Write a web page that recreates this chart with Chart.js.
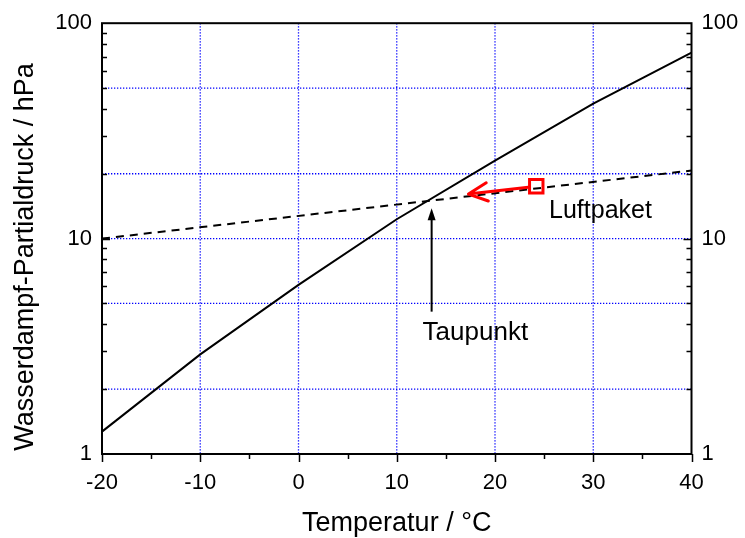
<!DOCTYPE html>
<html>
<head>
<meta charset="utf-8">
<script src="https://cdn.jsdelivr.net/npm/chart.js@4/dist/chart.umd.min.js"></script>
<style>
  html, body { margin: 0; padding: 0; background: #fff; }
  #wrap { width: 745px; height: 538px; }
</style>
</head>
<body>
<div id="wrap"><canvas id="chart" width="745" height="538"></canvas></div>
<script>
// Saturation vapour pressure over water (hPa) vs. temperature (°C)
const temperatures = [-20, -10, 0, 10, 20, 30, 40];
const saturationPressure = [1.27, 2.9, 6.1, 12.3, 23.0, 42.3, 73.0];

// Vapour pressure line of the air parcel (straight on the log axis)
const parcelLineT = [-20, 40];
const parcelLineE = [10, 20.7];

// Air parcel state and where cooling takes it
const parcelT = [24.2];
const parcelE = [17.5];
const parcelArrowTipT = 17.3;
const parcelArrowTipE = 16.1;

// Dew point arrow (vertical, from label up to the curve crossing)
const dewArrowT = 13.55;
const dewArrowE = [4.58, 13.84];

// Text annotations, anchored in data coordinates
const taupunktPos = { t: 18.0, e: 3.38 };
const luftpaketPos = { t: 25.5, e: 12.45 };

// Axis labels and grid positions
const xTickLabels = [-20, -10, 0, 10, 20, 30, 40];
const yTickLabels = [1, 10, 100];
const xGridValues = [-10, 0, 10, 20, 30];
const yGridValues = [2, 5, 10, 20, 50];
const xTitle = 'Temperatur / °C';
const yTitle = 'Wasserdampf-Partialdruck / hPa';

const FONT = '"Liberation Sans", Arial, sans-serif';
const GRID_BLUE = 'rgb(0,0,255)';

const toPoints = (xs, ys) => xs.map((x, i) => ({ x: x, y: ys[i] }));

// Blue dotted grid behind the data
const gridPlugin = {
  id: 'dottedGrid',
  beforeDatasetsDraw(chart) {
    const ctx = chart.ctx;
    const a = chart.chartArea;
    const xs = chart.scales.x, ys = chart.scales.y;
    ctx.save();
    ctx.strokeStyle = GRID_BLUE;
    ctx.lineWidth = 1.3;
    ctx.setLineDash([1.3, 1.7]);
    ctx.beginPath();
    xGridValues.forEach(v => {
      const px = xs.getPixelForValue(v);
      ctx.moveTo(px, a.top);
      ctx.lineTo(px, a.bottom);
    });
    yGridValues.forEach(v => {
      const py = ys.getPixelForValue(v);
      ctx.moveTo(a.left, py);
      ctx.lineTo(a.right, py);
    });
    ctx.stroke();
    ctx.restore();
  }
};

// Frame, inward/outward tick marks and axis titles
const framePlugin = {
  id: 'frame',
  afterDraw(chart) {
    const ctx = chart.ctx;
    const a = chart.chartArea;
    const xs = chart.scales.x, ys = chart.scales.y;
    ctx.save();
    ctx.strokeStyle = '#000';
    ctx.lineWidth = 2;
    ctx.strokeRect(a.left, a.top, a.right - a.left, a.bottom - a.top);

    ctx.lineWidth = 1.5;
    ctx.beginPath();
    // x ticks every 5 °C, pointing down out of the plot
    for (let v = -20; v <= 40; v += 5) {
      const px = Math.round(xs.getPixelForValue(v)) + 0.5;
      const len = (v % 10 === 0) ? 8 : 5;
      ctx.moveTo(px, a.bottom);
      ctx.lineTo(px, a.bottom + len);
    }
    // y ticks at every log tick, pointing into the plot on both sides
    for (let dec = 1; dec < 100; dec *= 10) {
      for (let m = 1; m <= 10; m++) {
        const v = dec * m;
        if (v === 1 || v === 100) continue;
        const py = Math.round(ys.getPixelForValue(v)) + 0.5;
        const len = (m === 10) ? 8 : 5;
        ctx.moveTo(a.left, py); ctx.lineTo(a.left + len, py);
        ctx.moveTo(a.right, py); ctx.lineTo(a.right - len, py);
      }
    }
    ctx.stroke();

    ctx.fillStyle = '#000';
    ctx.font = '27px ' + FONT;
    ctx.textAlign = 'center';
    ctx.textBaseline = 'alphabetic';
    ctx.fillText(xTitle, (a.left + a.right) / 2, 531);
    ctx.translate(33, 257);
    ctx.rotate(-Math.PI / 2);
    ctx.fillText(yTitle, 0, 0);
    ctx.restore();
  }
};

// Arrows and text labels
const annotationPlugin = {
  id: 'notes',
  afterDatasetsDraw(chart) {
    const ctx = chart.ctx;
    const xs = chart.scales.x, ys = chart.scales.y;
    ctx.save();

    // red arrow: parcel -> cooled state (open arrowhead)
    const sx = xs.getPixelForValue(parcelT[0]), sy = ys.getPixelForValue(parcelE[0]);
    const tx = xs.getPixelForValue(parcelArrowTipT), ty = ys.getPixelForValue(parcelArrowTipE);
    const ang = Math.atan2(ty - sy, tx - sx);
    ctx.strokeStyle = 'rgb(255,0,0)';
    ctx.lineWidth = 3;
    ctx.lineCap = 'round';
    ctx.lineJoin = 'round';
    ctx.beginPath();
    ctx.moveTo(sx + 8 * Math.cos(ang), sy + 8 * Math.sin(ang));
    ctx.lineTo(tx, ty);
    const head = 21, spread = 0.45;
    ctx.moveTo(tx - head * Math.cos(ang - spread), ty - head * Math.sin(ang - spread));
    ctx.lineTo(tx, ty);
    ctx.lineTo(tx - head * Math.cos(ang + spread), ty - head * Math.sin(ang + spread));
    ctx.stroke();

    // black arrow: up to the dew point
    const dx = xs.getPixelForValue(dewArrowT);
    const dy0 = ys.getPixelForValue(dewArrowE[0]);
    const dy1 = ys.getPixelForValue(dewArrowE[1]);
    ctx.strokeStyle = '#000';
    ctx.fillStyle = '#000';
    ctx.lineWidth = 2;
    ctx.lineCap = 'butt';
    ctx.beginPath();
    ctx.moveTo(dx, dy0);
    ctx.lineTo(dx, dy1 + 8);
    ctx.stroke();
    ctx.beginPath();
    ctx.moveTo(dx, dy1);
    ctx.lineTo(dx - 4, dy1 + 12);
    ctx.lineTo(dx + 4, dy1 + 12);
    ctx.closePath();
    ctx.fill();

    // labels
    ctx.textBaseline = 'alphabetic';
    ctx.textAlign = 'center';
    ctx.font = '26px ' + FONT;
    ctx.fillText('Taupunkt', xs.getPixelForValue(taupunktPos.t), ys.getPixelForValue(taupunktPos.e));
    ctx.textAlign = 'left';
    ctx.font = '25px ' + FONT;
    ctx.fillText('Luftpaket', xs.getPixelForValue(luftpaketPos.t), ys.getPixelForValue(luftpaketPos.e));
    ctx.restore();
  }
};

const tickFont = { family: FONT, size: 22 };

new Chart(document.getElementById('chart'), {
  type: 'scatter',
  data: {
    datasets: [
      {
        label: 'Sättigungsdampfdruck',
        data: toPoints(temperatures, saturationPressure),
        showLine: true,
        borderColor: '#000',
        borderWidth: 2,
        pointRadius: 0,
        tension: 0
      },
      {
        label: 'Luftpaket-Dampfdruck',
        data: toPoints(parcelLineT, parcelLineE),
        showLine: true,
        borderColor: '#000',
        borderWidth: 2,
        borderDash: [8, 6],
        pointRadius: 0
      },
      {
        label: 'Luftpaket',
        data: toPoints(parcelT, parcelE),
        pointStyle: 'rect',
        pointRadius: 9.5,
        borderColor: 'rgb(255,0,0)',
        borderWidth: 3,
        backgroundColor: 'rgba(0,0,0,0)'
      }
    ]
  },
  options: {
    responsive: false,
    animation: false,
    events: [],
    layout: { padding: { top: 21, left: 0, right: 0, bottom: 0 } },
    plugins: { legend: { display: false }, tooltip: { enabled: false } },
    scales: {
      x: {
        type: 'linear',
        position: 'bottom',
        min: -20, max: 40,
        afterFit(s) { s.height = 84; },
        ticks: {
          stepSize: 5,
          autoSkip: false,
          maxRotation: 0,
          color: '#000',
          font: tickFont,
          padding: 16,
          callback: (v) => xTickLabels.includes(v) ? String(v) : ''
        },
        grid: { display: false, drawTicks: false },
        border: { display: false }
      },
      y: {
        type: 'logarithmic',
        position: 'left',
        min: 1, max: 100,
        afterFit(s) { s.width = 102; },
        ticks: {
          autoSkip: false,
          color: '#000',
          font: tickFont,
          padding: 10,
          callback: (v) => yTickLabels.includes(v) ? String(v) : ''
        },
        grid: { display: false, drawTicks: false },
        border: { display: false }
      },
      y2: {
        type: 'logarithmic',
        position: 'right',
        min: 1, max: 100,
        afterFit(s) { s.width = 53.5; },
        ticks: {
          autoSkip: false,
          color: '#000',
          font: tickFont,
          padding: 10,
          callback: (v) => yTickLabels.includes(v) ? String(v) : ''
        },
        grid: { display: false, drawTicks: false },
        border: { display: false }
      }
    }
  },
  plugins: [gridPlugin, framePlugin, annotationPlugin]
});
</script>
</body>
</html>
